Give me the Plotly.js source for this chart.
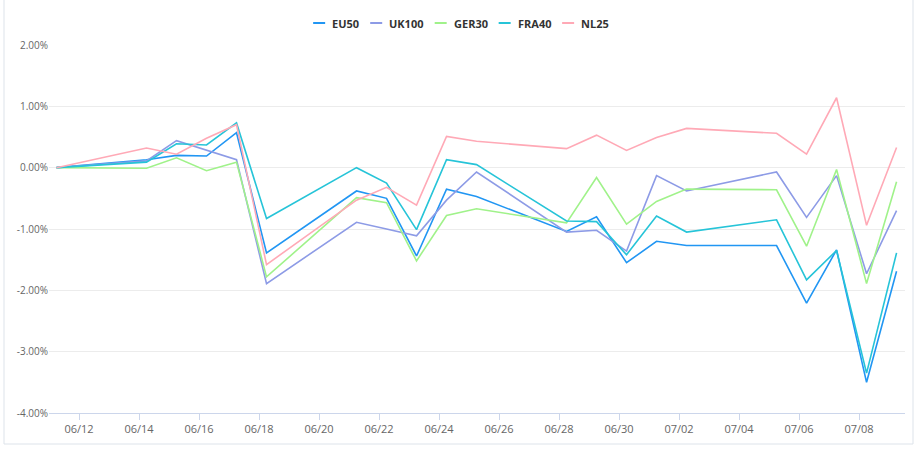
<!DOCTYPE html>
<html>
<head>
<meta charset="utf-8">
<script src="https://cdn.plot.ly/plotly-3.0.1.min.js"></script>
<style>
  html, body { margin: 0; padding: 0; background: #ffffff; }
  #chart { width: 918px; height: 450px; }
</style>
</head>
<body>
<div id="chart"></div>
<script>
// Trading days (2021)
const dates = [
  "2021-06-11 06:00", "2021-06-14 06:00", "2021-06-15 06:00", "2021-06-16 06:00",
  "2021-06-17 06:00", "2021-06-18 06:00", "2021-06-21 06:00", "2021-06-22 06:00",
  "2021-06-23 06:00", "2021-06-24 06:00", "2021-06-25 06:00", "2021-06-28 06:00",
  "2021-06-29 06:00", "2021-06-30 06:00", "2021-07-01 06:00", "2021-07-02 06:00",
  "2021-07-05 06:00", "2021-07-06 06:00", "2021-07-07 06:00", "2021-07-08 06:00",
  "2021-07-09 06:00"
];

// Cumulative change, in percent
const EU50  = [0, 0.13, 0.20, 0.19, 0.57, -1.39, -0.38, -0.50, -1.44, -0.35, -0.47, -1.04, -0.80, -1.55, -1.20, -1.27, -1.27, -2.21, -1.34, -3.50, -1.69];
const UK100 = [0, 0.11, 0.44, 0.28, 0.13, -1.89, -0.89, -1.00, -1.11, -0.53, -0.07, -1.05, -1.02, -1.36, -0.13, -0.38, -0.07, -0.81, -0.13, -1.73, -0.70];
const GER30 = [0, -0.01, 0.16, -0.05, 0.09, -1.78, -0.49, -0.57, -1.52, -0.78, -0.67, -0.90, -0.16, -0.92, -0.55, -0.35, -0.36, -1.28, -0.03, -1.89, -0.23];
const FRA40 = [0, 0.09, 0.39, 0.37, 0.73, -0.83, 0.00, -0.25, -1.01, 0.13, 0.05, -0.87, -0.88, -1.42, -0.79, -1.05, -0.85, -1.83, -1.35, -3.35, -1.39];
const NL25  = [0, 0.32, 0.22, 0.48, 0.70, -1.58, -0.53, -0.32, -0.61, 0.51, 0.43, 0.31, 0.53, 0.28, 0.49, 0.64, 0.56, 0.22, 1.14, -0.94, 0.33];

const seriesNames = ["EU50", "UK100", "GER30", "FRA40", "NL25"];
const seriesValues = [EU50, UK100, GER30, FRA40, NL25];
const seriesColors = ["#2196f3", "#8d9be6", "#a0f28a", "#26c4d8", "#ffa9b6"];

const yTickVals = [-4, -3, -2, -1, 0, 1, 2];
const yTickText = yTickVals.map(v => v.toFixed(2) + "%");

// ---- geometry ----
const W = 918, H = 450;
const M = { l: 49, r: 13, t: 45, b: 37 };
const plotW = W - M.l - M.r, plotH = H - M.t - M.b;
const px2x = px => (px - M.l) / plotW;
const py2y = py => (H - M.b - py) / plotH;

const traces = seriesNames.map((name, i) => ({
  type: "scatter",
  mode: "lines",
  name: name,
  x: dates,
  y: seriesValues[i],
  line: { color: seriesColors[i], width: 1.6 },
  showlegend: false,
  hovertemplate: "%{x|%m/%d}: %{y:.2f}%<extra>" + name + "</extra>"
}));

// ---- custom legend (short line symbols, as in the reference) ----
const legendFont = "bold 11px 'Open Sans'";
const ctx = document.createElement("canvas").getContext("2d");
ctx.font = legendFont;
const symLen = 12, symGap = 5, itemGap = 13;
const textW = seriesNames.map(n => ctx.measureText(n).width);
const totalW = textW.reduce((s, w) => s + symLen + symGap + w, 0) + itemGap * (seriesNames.length - 1);
let cursor = 460 - totalW / 2;
const legendY = 23;
const shapes = [];
const annotations = [];
seriesNames.forEach((name, i) => {
  shapes.push({
    type: "line", xref: "paper", yref: "paper",
    x0: px2x(cursor), x1: px2x(cursor + symLen),
    y0: py2y(legendY), y1: py2y(legendY),
    line: { color: seriesColors[i], width: 2 }
  });
  annotations.push({
    xref: "paper", yref: "paper",
    x: px2x(cursor + symLen + symGap), y: py2y(legendY),
    xanchor: "left", yanchor: "middle",
    text: "<b>" + name + "</b>",
    showarrow: false,
    font: { family: "Open Sans", size: 11, color: "#333333" }
  });
  cursor += symLen + symGap + textW[i] + itemGap;
});

// outer frame
shapes.push({
  type: "rect", xref: "paper", yref: "paper",
  x0: px2x(4), x1: px2x(913), y0: py2y(444), y1: py2y(-2),
  line: { color: "#dde3ea", width: 1 },
  fillcolor: "rgba(0,0,0,0)", layer: "below"
});

const layout = {
  width: W,
  height: H,
  margin: M,
  paper_bgcolor: "#ffffff",
  plot_bgcolor: "#ffffff",
  font: { family: "Open Sans, Noto Sans, sans-serif", color: "#666666", size: 10 },
  showlegend: false,
  xaxis: {
    type: "date",
    range: ["2021-06-11 00:00", "2021-07-09 12:45"],
    tick0: "2021-06-12",
    dtick: 2 * 86400000,
    tickformat: "%m/%d",
    showgrid: false,
    zeroline: false,
    showline: true,
    linecolor: "#ccd6eb",
    linewidth: 1,
    ticks: "outside",
    ticklen: 6,
    tickcolor: "#ccd6eb",
    tickfont: { size: 11, color: "#666666" },
    fixedrange: true
  },
  yaxis: {
    range: [-4, 2],
    tickmode: "array",
    tickvals: yTickVals,
    ticktext: yTickText,
    showgrid: true,
    gridcolor: "#ececec",
    gridwidth: 1,
    zeroline: false,
    showline: false,
    ticks: "",
    tickfont: { size: 10, color: "#666666" },
    fixedrange: true
  },
  shapes: shapes,
  annotations: annotations
};

Plotly.newPlot("chart", traces, layout, { displayModeBar: false, staticPlot: true });
</script>
</body>
</html>
